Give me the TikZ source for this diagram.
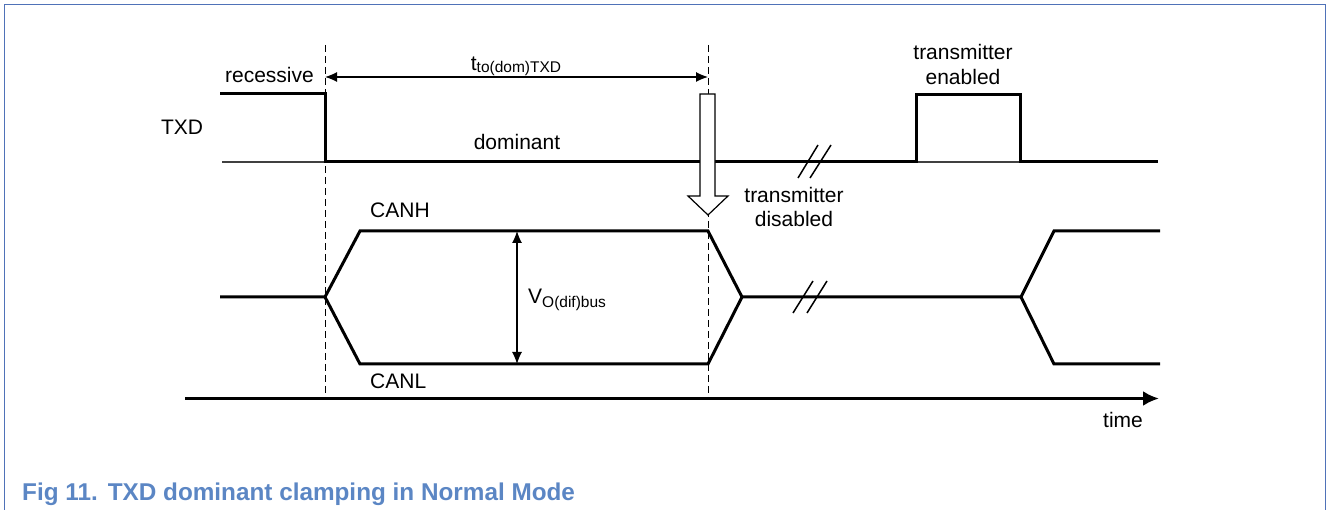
\documentclass[tikz,border=0pt]{standalone}
\usepackage{fontspec}
\setmainfont{Liberation Sans}
\usetikzlibrary{arrows.meta}
\definecolor{frameblue}{HTML}{4F72B8}
\definecolor{capblue}{HTML}{5B86C4}
\newcommand\lowsub[2]{\raisebox{-#1}{\fontsize{15.5}{18}\selectfont #2}}
\begin{document}
\begin{tikzpicture}[x=1pt,y=-1pt,
  sig/.style={line width=3pt, line join=miter, line cap=butt},
  baseln/.style={line width=1.2pt, black!75},
  guide/.style={line width=1pt, dash pattern=on 7pt off 4pt},
  dimarrow/.style={line width=1.2pt, {Latex[length=12pt,width=10pt]}-{Latex[length=12pt,width=10pt]}},
  breakmark/.style={line width=1.5pt},
  lbl/.style={font=\fontsize{21}{25}\selectfont, inner sep=0pt},
  hollow/.style={line width=1.2pt, fill=white, draw=black}
]
\useasboundingbox (0,0) rectangle (1328,510);
% frame
\draw[frameblue, line width=1.5pt] (4.5,510) -- (4.5,4.5) -- (1325.5,4.5) -- (1325.5,510);

% coordinates
\coordinate (g1t) at (325,45);
\coordinate (g1b) at (325,398);
\coordinate (g2t) at (708,45);
\coordinate (g2b) at (708,398);

% guides
\draw[guide] (g1t) -- (g1b);
\draw[guide] (g2t) -- (g2b);

% TXD waveform
\coordinate (tx0) at (220,94);
\coordinate (tx1) at (325,94);
\coordinate (tx2) at (325,162);
\coordinate (tx3) at (916,162);
\coordinate (tx4) at (916,95);
\coordinate (tx5) at (1020,95);
\coordinate (tx6) at (1020,162);
\coordinate (tx7) at (1158,162);
\coordinate (bl0) at (222,162);
\draw[baseln] (bl0) -- (tx7);
\draw[sig] (tx0) -- (tx1) -- (tx2) -- (tx3) -- (tx4) -- (tx5) -- (tx6) -- (tx7);

% CAN waveform
\coordinate (c0) at (220,297);
\coordinate (c1) at (325,297);
\coordinate (h1) at (360,231);
\coordinate (h2) at (708,231);
\coordinate (l1) at (360,364);
\coordinate (l2) at (708,364);
\coordinate (c2) at (742,297);
\coordinate (c3) at (1021,297);
\coordinate (h3) at (1054,231);
\coordinate (h4) at (1160,231);
\coordinate (l3) at (1054,364);
\coordinate (l4) at (1160,364);
\draw[sig] (c0) -- (c1) -- (h1) -- (h2) -- (c2);
\draw[sig] (c1) -- (l1) -- (l2) -- (c2);
\draw[sig] (c2) -- (c3) -- (h3) -- (h4);
\draw[sig] (c3) -- (l3) -- (l4);

% break marks
\coordinate (b1a) at (798,178); \coordinate (b1b) at (818,145);
\coordinate (b2a) at (810,178); \coordinate (b2b) at (831,145);
\draw[breakmark] (b1a) -- (b1b);
\draw[breakmark] (b2a) -- (b2b);
\coordinate (b3a) at (793,313); \coordinate (b3b) at (813,281);
\coordinate (b4a) at (807,313); \coordinate (b4b) at (827,281);
\draw[breakmark] (b3a) -- (b3b);
\draw[breakmark] (b4a) -- (b4b);

% dimension arrows
\coordinate (d1) at (325,77);
\coordinate (d2) at (708,77);
\draw[dimarrow] (d1) -- (d2);
\coordinate (v1) at (517,231);
\coordinate (v2) at (517,364);
\draw[dimarrow] (v1) -- (v2);

% time axis
\coordinate (ta0) at (185,398.5);
\coordinate (ta1) at (1159,398.5);
\draw[line width=3pt, -{Latex[length=16pt,width=15pt]}] (ta0) -- (ta1);

% hollow arrow
\draw[hollow] (700,94) -- (715,94) -- (715,196) -- (728,196) -- (708,215) -- (688,196) -- (700,196) -- cycle;

% labels
\node[lbl, anchor=base east] (rec) at (314,83) {recessive};
\node[lbl, anchor=base] (txd) at (182,135) {TXD};
\node[lbl, anchor=base] (tto) at (516,71) {t\lowsub{2pt}{to(dom)TXD}};
\node[lbl, anchor=base] (dom) at (517,150) {dominant};
\node[lbl, anchor=base] (ten1) at (963,60) {transmitter};
\node[lbl, anchor=base] (ten2) at (963,85) {enabled};
\node[lbl, anchor=base] (tdis1) at (794,203) {transmitter};
\node[lbl, anchor=base] (tdis2) at (794,227) {disabled};
\node[lbl, anchor=base west] (canh) at (370,218) {CANH};
\node[lbl, anchor=base west] (canl) at (370,389) {CANL};
\node[lbl, anchor=base west] (vlab) at (528,304) {V\lowsub{4pt}{O(dif)bus}};
\node[lbl, anchor=base] (time) at (1123,428) {time};

% caption
\node[inner sep=0pt, anchor=base west, text=capblue, font=\bfseries\fontsize{24.3}{29}\selectfont] (cap) at (22,500) {Fig 11.\hspace{10pt}TXD dominant clamping in Normal Mode};
\end{tikzpicture}
\end{document}
